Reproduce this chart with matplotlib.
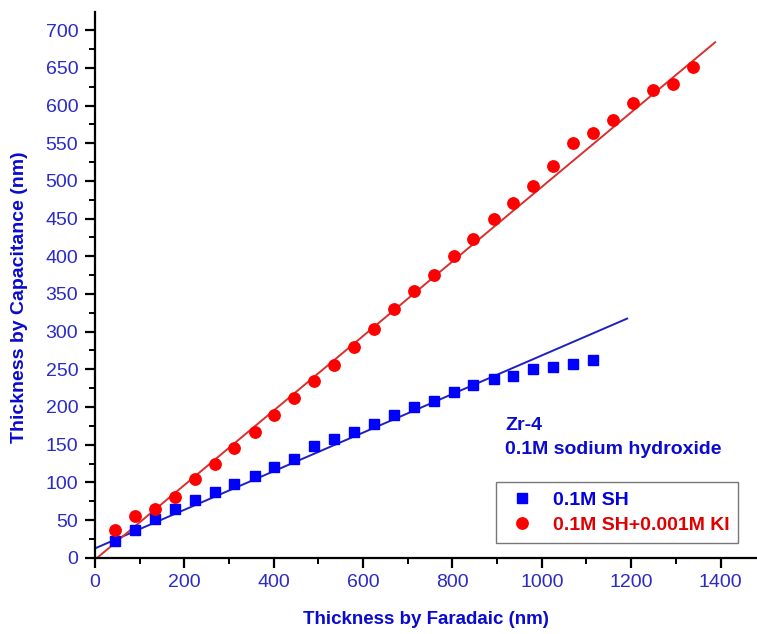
import matplotlib
matplotlib.use("Agg")
import matplotlib.pyplot as plt
from matplotlib.ticker import MultipleLocator
import numpy as np

plt.rcParams['font.family'] = ['Liberation Sans', 'DejaVu Sans']

# Data
sh_x = [45, 89, 134, 178, 223, 268, 312, 357, 401, 446, 491, 535, 580, 624, 669,
        713, 758, 803, 847, 892, 936, 981, 1025, 1070, 1115]
sh_y = [22, 37, 51, 64, 76, 87, 98, 109, 121, 131, 148, 157, 167, 177, 189,
        200, 208, 220, 229, 237, 241, 250, 253, 257, 263]

ki_x = [45, 89, 134, 178, 223, 268, 312, 357, 401, 446, 491, 535, 580, 624, 669,
        713, 758, 803, 847, 892, 936, 981, 1025, 1070, 1115, 1159, 1204, 1248, 1293, 1338]
ki_y = [37, 55, 65, 81, 104, 124, 145, 167, 189, 212, 235, 256, 280, 304, 330,
        354, 375, 400, 423, 450, 471, 493, 520, 550, 563, 581, 603, 620, 629, 651]

# Linear fit lines (slope, intercept, x range)
sh_fit = (0.256, 12.4, 0, 1191)
ki_fit = (0.4945, -2.5, 5, 1388)

labels = ['0.1M SH', '0.1M SH+0.001M KI']
x_label = 'Thickness by Faradaic (nm)'
y_label = 'Thickness by Capacitance (nm)'
note = ['Zr-4', '0.1M sodium hydroxide']

fig = plt.figure(figsize=(7.57, 6.34), dpi=100)
ax = fig.add_axes([0.1255, 0.1203, 0.8735, 0.8607])

tick_col = '#2a2ac8'
lab_col = '#0a0ad0'

for fit, col in ((sh_fit, '#2020c0'), (ki_fit, '#d83030')):
    m, b, x0, x1 = fit
    xs = np.array([x0, x1])
    ax.plot(xs, m * xs + b, color=col, lw=1.4, zorder=2)

h1, = ax.plot(sh_x, sh_y, 's', color='#0000ff', ms=7.5, mec='#0000ff', zorder=3)
h2, = ax.plot(ki_x, ki_y, 'o', color='#ff0000', ms=8.2, mec='#ff0000', zorder=3)

ax.set_xlim(0, 1480)
ax.set_ylim(0, 724)
ax.xaxis.set_major_locator(MultipleLocator(200))
ax.xaxis.set_minor_locator(MultipleLocator(100))
ax.yaxis.set_major_locator(MultipleLocator(50))
ax.yaxis.set_minor_locator(MultipleLocator(25))

for s in ('top', 'right'):
    ax.spines[s].set_visible(False)
for s in ('left', 'bottom'):
    ax.spines[s].set_linewidth(1.6)
ax.tick_params(which='major', direction='out', length=7, width=1.6, pad=5,
               labelsize=14, labelcolor=tick_col)
ax.tick_params(which='minor', direction='out', length=4, width=1.4)

ax.set_xlabel(x_label, fontsize=13.5, fontweight='bold', color=lab_col, labelpad=14)
ax.set_ylabel(y_label, fontsize=14, fontweight='bold', color=lab_col)
ax.yaxis.set_label_coords(-(95 - 28) / 662, (557.7 - 297) / 545.5)

fig.text(505 / 757, 1 - 425 / 634, note[0], fontsize=14, fontweight='bold',
         color=lab_col, va='center', ha='left')
fig.text(505 / 757, 1 - 450 / 634, note[1], fontsize=14, fontweight='bold',
         color=lab_col, va='center', ha='left')

leg = ax.legend([h1, h2], labels, loc='upper left',
                bbox_to_anchor=((496 - 95) / 662, 1 - (482 - 12) / 545.5),
                bbox_transform=ax.transAxes,
                prop={'weight': 'bold', 'size': 14}, frameon=True, fancybox=False,
                edgecolor='#555555', handlelength=1.8, handletextpad=0.7,
                borderpad=0.45, labelspacing=0.4, borderaxespad=0)
leg.get_frame().set_linewidth(1.0)
for t, c in zip(leg.get_texts(), ['#0000e0', '#e00000']):
    t.set_color(c)

fig.savefig('out.png', dpi=100)
